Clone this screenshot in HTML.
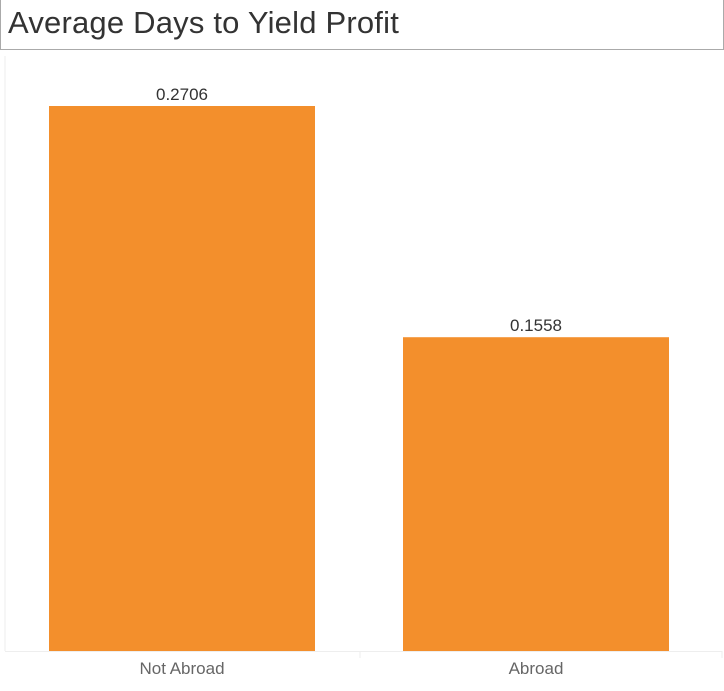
<!DOCTYPE html>
<html><head><meta charset="utf-8"><style>
body{margin:0;width:724px;height:691px;background:#fff;overflow:hidden;font-family:"Liberation Sans",sans-serif}
#title{position:absolute;left:0;top:0;width:722px;height:49px;border-left:1px solid #aaa;border-right:1px solid #aaa;border-bottom:1px solid #aaa;}
#title span{position:absolute;left:7px;top:5px;font-size:31px;color:#333;letter-spacing:0.2px;font-weight:normal}
</style></head><body>
<div id="title"><span>Average Days to Yield Profit</span></div>
<svg id="chart" width="724" height="691" style="position:absolute;left:0;top:0">
<line x1="5" y1="56" x2="5" y2="651" stroke="#eee"/>
<line x1="5" y1="651.5" x2="722" y2="651.5" stroke="#eee"/>
<line x1="360" y1="651" x2="360" y2="658" stroke="#eee"/>
<line x1="722" y1="651" x2="722" y2="658" stroke="#eee"/>
</svg>
<script>
const categories=["Not Abroad","Abroad"];
const values=[0.2706,0.1558];
const valueLabels=["0.2706","0.1558"];
const svg=document.getElementById('chart');
const NS="http://www.w3.org/2000/svg";
const base=651, pxPerUnit=545/0.2706;
const y=v=>base-v*pxPerUnit;
const bandW=354, x0=5;
const xC=i=>x0+bandW*i+bandW/2;
categories.forEach((c,i)=>{
  const r=document.createElementNS(NS,'rect');
  r.setAttribute('x',xC(i)-133);r.setAttribute('width',266);
  r.setAttribute('y',y(values[i]));r.setAttribute('height',base-y(values[i]));
  r.setAttribute('fill','#f38f2c');
  
  
  svg.appendChild(r);
  const t=document.createElementNS(NS,'text');
  t.setAttribute('x',xC(i));t.setAttribute('y',y(values[i])-6);
  t.setAttribute('text-anchor','middle');t.setAttribute('font-size','17');t.setAttribute('fill','#333');
  t.textContent=valueLabels[i];
  
  
  svg.appendChild(t);
  const l=document.createElementNS(NS,'text');
  l.setAttribute('x',xC(i));l.setAttribute('y',674);
  l.setAttribute('text-anchor','middle');l.setAttribute('font-size','17');l.setAttribute('fill','#666');
  l.textContent=c;
  
  
  svg.appendChild(l);
});
</script>
</body></html>
